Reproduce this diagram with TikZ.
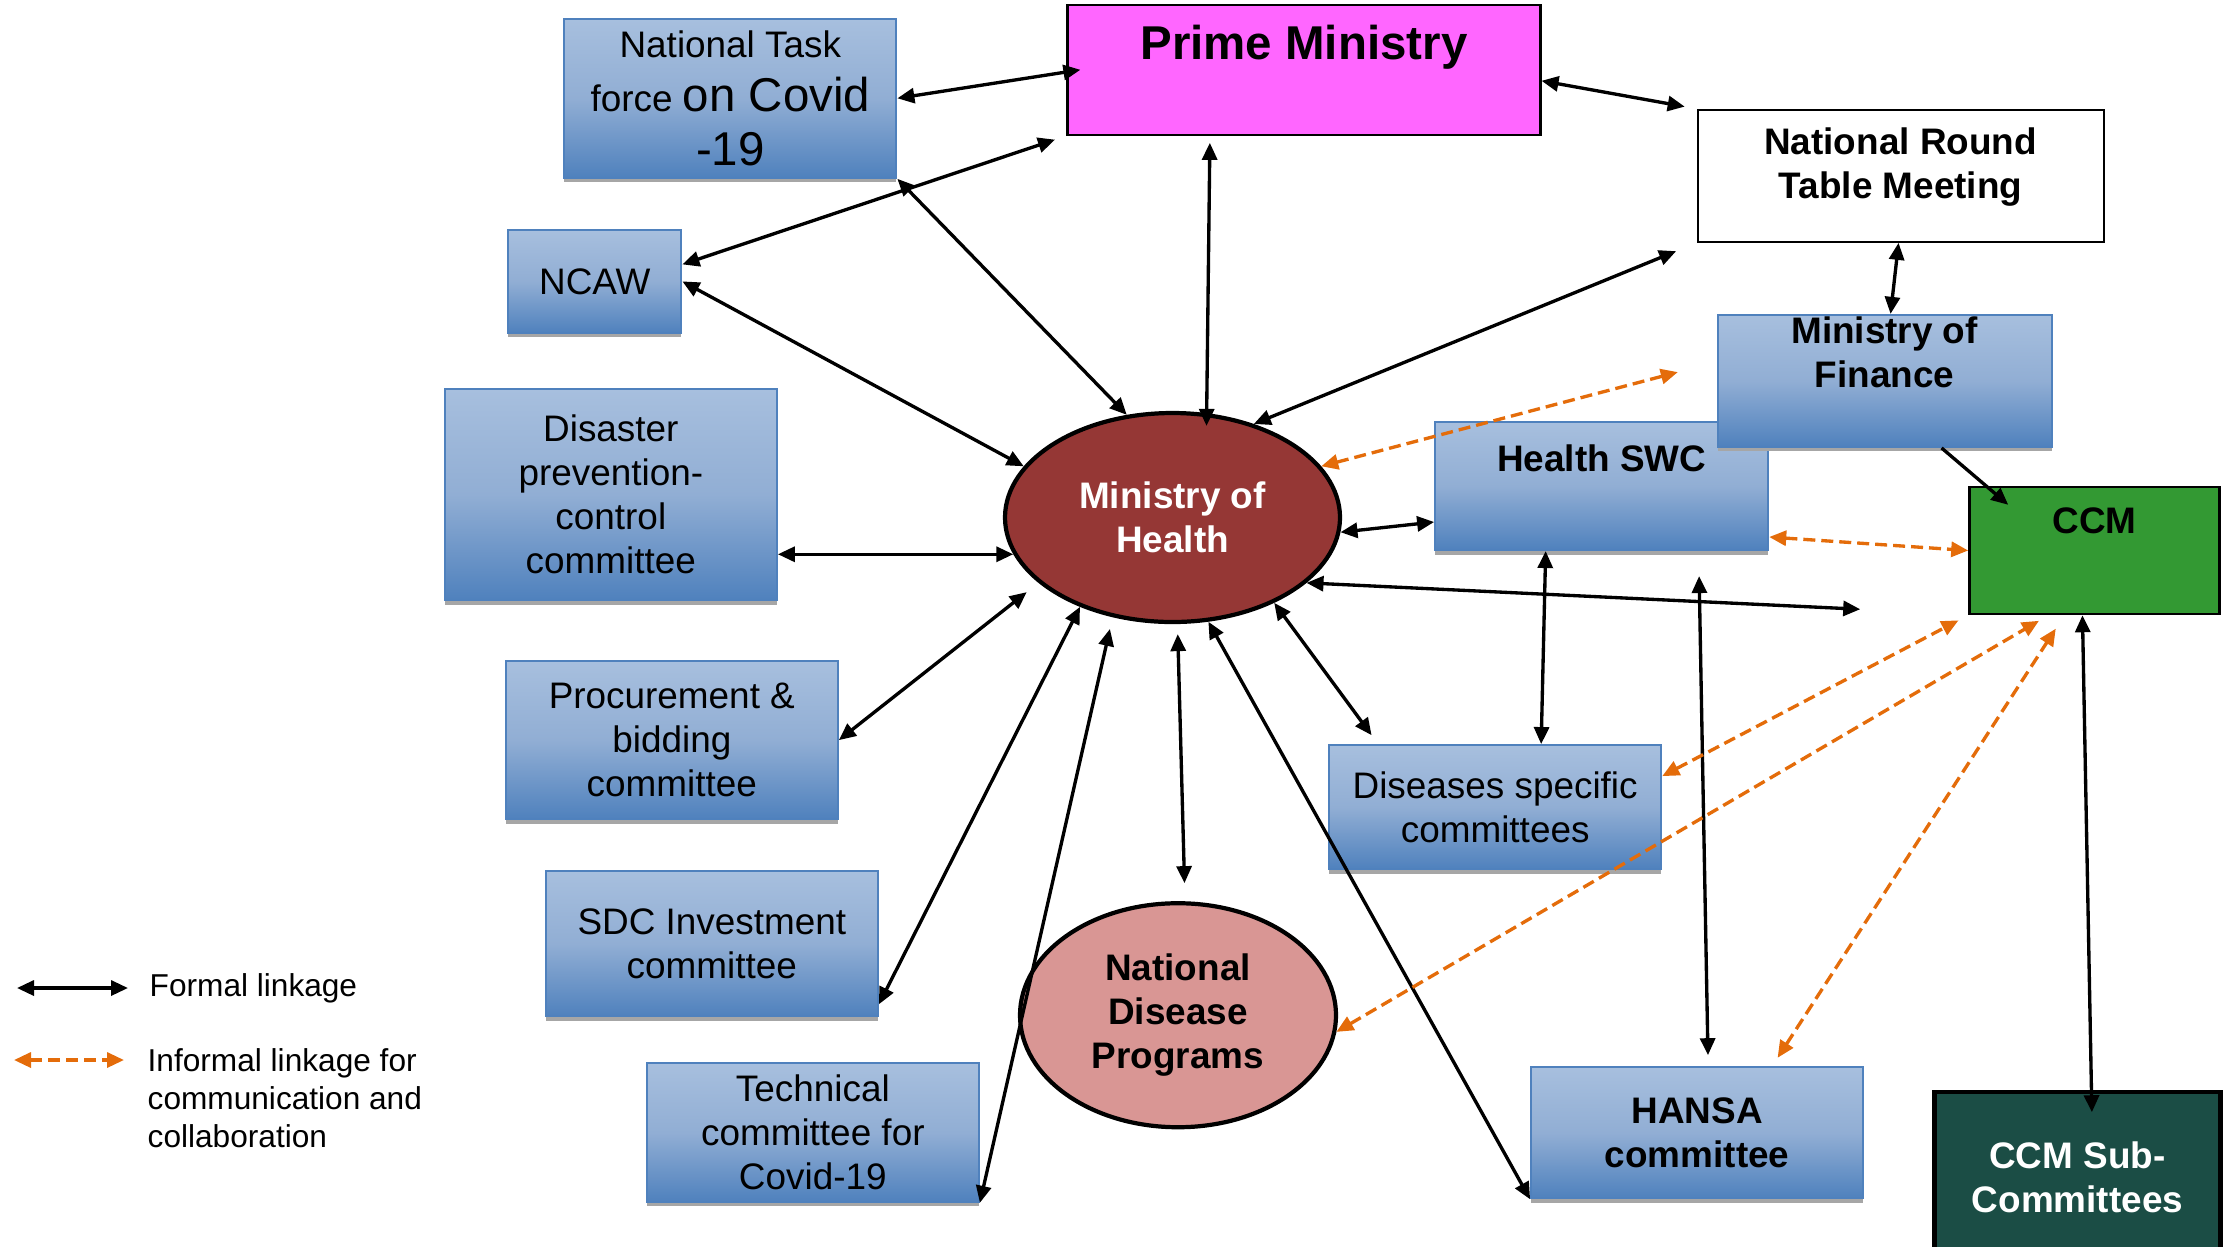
\documentclass[tikz,border=0pt]{standalone}
\usepackage{fontspec}
\setmainfont{Liberation Sans}
\usepackage{tikz}
\usetikzlibrary{arrows.meta, positioning, shadows, shapes.geometric}

\definecolor{boxtop}{RGB}{167,191,222}
\definecolor{boxmid}{RGB}{145,174,212}
\definecolor{boxbot}{RGB}{79,129,189}
\definecolor{boxedge}{RGB}{79,129,189}
\definecolor{primefill}{RGB}{255,102,255}
\definecolor{mohfill}{RGB}{149,55,53}
\definecolor{ndpfill}{RGB}{217,150,148}
\definecolor{ccmfill}{RGB}{51,153,51}
\definecolor{ccmsubfill}{RGB}{27,77,69}
\definecolor{linkorange}{RGB}{228,108,10}

\tikzset{
  formal/.style={
    line width=0.95pt,
    <->,
    >={Triangle[length=0.17cm,width=0.15cm]}
  },
  oneway/.style={
    line width=0.95pt,
    ->,
    >={Triangle[length=0.17cm,width=0.15cm]}
  },
  informal/.style={
    line width=0.95pt,
    draw=linkorange,
    dash pattern=on 0.12cm off 0.06cm,
    <->,
    >={Triangle[length=0.17cm,width=0.15cm]}
  }
}

\begin{document}
\begin{tikzpicture}[
  committee/.style={rectangle, draw=boxedge, line width=0.6pt, top color=boxtop, bottom color=boxbot, middle color=boxmid, minimum width=3.32cm, align=center, font=\fontsize{10.5}{12.5}\selectfont, drop shadow={shadow xshift=0cm, shadow yshift=-0.045cm, fill=black!35, opacity=1}},
  headbox/.style={rectangle, draw, line width=0.6pt, align=center, font=\bfseries\fontsize{10.5}{12.5}\selectfont},
  body/.style={ellipse, draw, line width=1.2pt, inner sep=0pt, align=center, font=\bfseries\fontsize{10.5}{12.5}\selectfont},
  legtext/.style={inner sep=0pt, align=left, font=\fontsize{9}{10.8}\selectfont}
]
  \useasboundingbox (0,0) rectangle (22.28,-12.46);

  % Central ministry
  \node[body, fill=mohfill, text=white, minimum width=3.35cm, minimum height=2.09cm] (moh) at (11.725,-5.175) {Ministry of\\Health};

  % Left committees
  \node[committee, minimum height=2.11cm, left=2.25cm of moh, yshift=0.23cm] (dis) {Disaster\\prevention-\\control\\committee};
  \node[committee, minimum width=1.73cm, minimum height=1.03cm, above=0.54cm of dis, xshift=-0.16cm] (ncaw) {NCAW};
  \node[committee, minimum height=1.59cm, inner ysep=0.05cm, above=0.5cm of ncaw, xshift=1.355cm, font=\fontsize{10.5}{15.3}\selectfont] (ntf) {National Task\\force {\fontsize{13.5}{15.3}\selectfont on Covid}\\{\fontsize{13.5}{15.3}\selectfont -19}};
  \node[committee, minimum height=1.58cm, below=0.59cm of dis, xshift=0.61cm] (proc) {Procurement \&\\bidding\\committee};
  \node[committee, minimum height=1.45cm, below=0.5cm of proc, xshift=0.4cm] (sdc) {SDC Investment\\committee};
  \node[committee, minimum height=1.37cm, below=0.45cm of sdc, xshift=1.01cm] (tech) {Technical\\committee for\\Covid-19};

  % Right side
  \node[committee, font=\bfseries\fontsize{10.5}{12.5}\selectfont, minimum width=3.33cm, text height=0.27cm, text depth=0.57cm, inner ysep=0.22cm, right=0.92cm of moh, yshift=0.315cm] (hswc) {Health SWC};
  \node[headbox, fill=primefill, minimum width=4.73cm, text height=0.34cm, text depth=0.54cm, inner ysep=0.21cm, right=1.69cm of ntf, yshift=0.285cm, font=\bfseries\fontsize{13.5}{16}\selectfont] (prime) {Prime Ministry};
  \node[headbox, fill=white, minimum width=4.06cm, text height=0.71cm, text depth=0.25cm, inner ysep=0.18cm, right=1.55cm of prime, yshift=-1.06cm] (nrt) {National Round\\Table Meeting};
  \node[committee, font=\bfseries\fontsize{10.5}{12.5}\selectfont, minimum width=3.34cm, text height=0.71cm, text depth=0.57cm, inner ysep=0.02cm, below=0.71cm of nrt, xshift=-0.16cm] (mof) {Ministry of\\Finance};
  \node[headbox, fill=ccmfill, line width=0.7pt, minimum width=2.5cm, text height=0.27cm, text depth=0.62cm, inner ysep=0.19cm, right=1.99cm of hswc, yshift=-0.645cm] (ccm) {CCM};
  \node[headbox, fill=ccmsubfill, text=white, line width=1.2pt, minimum width=2.86cm, minimum height=1.70cm, below=4.75cm of ccm, xshift=-0.17cm] (ccmsub) {CCM Sub-\\Committees};
  \node[committee, minimum height=1.24cm, below=1.93cm of hswc, xshift=-1.065cm] (dsc) {Diseases specific\\committees};
  \node[committee, font=\bfseries\fontsize{10.5}{12.5}\selectfont, minimum height=1.31cm, below=1.96cm of dsc, xshift=2.02cm] (hansa) {HANSA\\committee};
  \node[body, fill=ndpfill, minimum width=3.16cm, minimum height=2.24cm, below=2.77cm of moh, xshift=0.055cm] (ndp) {National\\Disease\\Programs};

  % Formal links
  \draw[formal] (ntf.east) -- ([xshift=0.14cm]prime.west);
  \draw[formal, shorten >=0.12cm] ([yshift=0.17cm]ncaw.east) -- (prime.south west);
  \draw[formal] (ntf.south east) -- (moh.114);
  \draw[formal] (ncaw.east) -- (moh.161);
  \draw[formal, shorten >=0.07cm] ([xshift=0.34cm,yshift=-0.15cm]moh.north) -- ([xshift=-0.94cm]prime.south);
  \draw[formal, shorten >=0.12cm] ([yshift=-0.11cm]prime.east) -- (nrt.north west);
  \draw[formal, shorten >=0.22cm] (moh.49) -- (nrt.south west);
  \draw[formal] ([xshift=-0.02cm]nrt.south) -- ([xshift=0.06cm]mof.north);
  \draw[formal] (moh.193) -- (moh.193 -| dis.east);
  \draw[formal] (moh.355) -- ([yshift=-0.36cm]hswc.west);
  \draw[oneway] ([xshift=0.57cm]mof.south) -- ([shift={(0.4cm,-0.19cm)}]ccm.north west);
  \draw[formal] (moh.334) -- ([shift={(-1.08cm,0.06cm)}]ccm.south west);
  \draw[formal] ([xshift=-0.56cm]hswc.south) -- ([xshift=0.46cm]dsc.north);
  \draw[formal, shorten <=0.25cm, shorten >=0.11cm] ([xshift=0.97cm]hswc.south) -- ([xshift=0.11cm]hansa.north);
  \draw[formal, shorten <=0.15cm] (moh.206) -- (proc.east);
  \draw[formal] (moh.224) -- ([yshift=0.13cm]sdc.south east);
  \draw[formal, shorten <=0.12cm] (moh.239) -- (tech.south east);
  \draw[formal, shorten <=0.1cm, shorten >=0.18cm] ([xshift=0.05cm]moh.south) -- ([xshift=0.07cm]ndp.north);
  \draw[formal] (moh.289) -- (hansa.south west);
  \draw[formal, shorten >=0.11cm] (moh.320) -- ([xshift=0.5cm]dsc.north west);
  \draw[formal, shorten >=-0.22cm] ([xshift=-0.12cm]ccm.south) -- ([xshift=0.14cm]ccmsub.north);

  % Informal links
  \draw[informal, shorten >=0.4cm] (moh.19) -- ([yshift=0.19cm]mof.west);
  \draw[informal] ([yshift=-0.51cm]hswc.east) -- (ccm.west);
  \draw[informal, shorten >=0.11cm] ([yshift=0.31cm]dsc.east) -- (ccm.south west);
  \draw[informal, shorten >=0.11cm] (ndp.354) -- ([xshift=-0.46cm]ccm.south);
  \draw[informal, shorten <=0.1cm, shorten >=0.16cm] ([xshift=0.75cm]hansa.north) -- ([xshift=-0.30cm]ccm.south);

  % Legend
  \coordinate (fa) at (0.17,-9.88);
  \coordinate (fb) at (1.28,-9.88);
  \coordinate (ia) at (0.14,-10.60);
  \coordinate (ib) at (1.24,-10.60);
  \draw[formal] (fa) -- (fb);
  \draw[informal] (ia) -- (ib);
  \node[legtext, right=0.21cm of fb] (formtxt) {Formal linkage};
  \node[legtext, anchor=west] (inftxt) at (1.47,-10.98) {Informal linkage for\\communication and\\collaboration};
\end{tikzpicture}
\end{document}
